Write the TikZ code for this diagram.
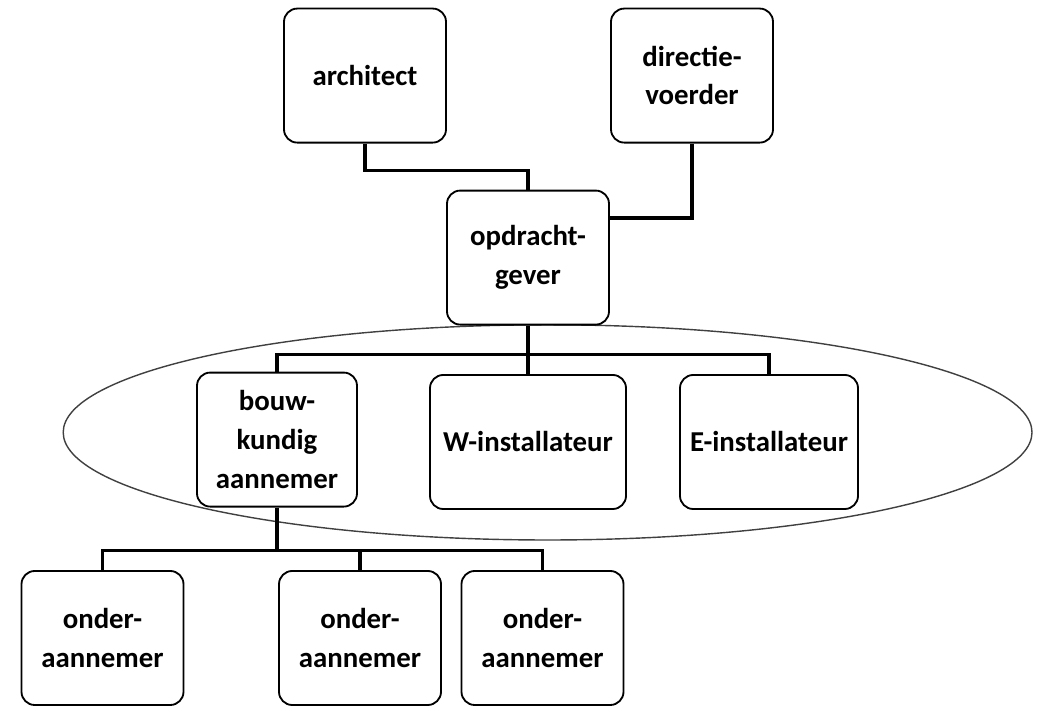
\documentclass[tikz,border=0pt]{standalone}
\usepackage{fontspec}
\setmainfont{Carlito}
\usetikzlibrary{positioning}

\begin{document}
\begin{tikzpicture}[
    box/.style={draw, line width=1.3pt, rounded corners=0.33cm, fill=white,
                minimum width=4.05cm, minimum height=3.35cm, align=center,
                inner sep=2pt, font=\fontsize{20.5}{27.5}\selectfont\bfseries},
    conn/.style={line width=2.8pt}
  ]
    \useasboundingbox (0,0) rectangle (25.95,17.65);

    % Draw ellipse round the contractors
    \draw[line width=1pt, black!75] (13.69,6.84) ellipse (12.11cm and 2.69cm);

    % Draw boxes
    \node[box] (architect) at (9.125,15.76) {architect};
    \node[box] (directie) at (17.3,15.76) {directie-\\voerder};
    \node[box] (opdrachtgever) at (13.2,11.21) {opdracht-\\gever};

    \node[box, minimum width=4cm] (bouwkundig) at (6.925,6.66) {bouw-\\kundig\\aannemer};
    \node[box, minimum width=4.9cm] (winst) at (13.2,6.6) {W-installateur};
    \node[box, minimum width=4.45cm] (einst) at (19.225,6.6) {E-installateur};

    \node[box] (onder1) at (2.5625,1.7) {onder-\\aannemer};
    \node[box] (onder2) at (9.0,1.7) {onder-\\aannemer};
    \node[box] (onder3) at (13.5625,1.7) {onder-\\aannemer};

    % Draw connections to opdrachtgever
    \draw[conn] (architect.south) -- ++(0,-0.675) -| (opdrachtgever.north);
    \draw[conn] (directie.south) |- ([yshift=1cm]opdrachtgever.east);

    % Draw bus to contractors
    \draw[conn] (opdrachtgever.south) -- ++(0,-0.725) coordinate (bus1);
    \draw[conn] (bouwkundig.north) |- (bus1) -| (einst.north);
    \draw[conn] (winst.north) -- (winst.north |- bus1);

    % Draw bus to subcontractors
    \draw[conn] (bouwkundig.south) -- ++(0,-1.075) coordinate (bus2);
    \draw[conn] (onder1.north) |- (bus2) -| (onder3.north);
    \draw[conn] (onder2.north) -- (onder2.north |- bus2);

\end{tikzpicture}
\end{document}
